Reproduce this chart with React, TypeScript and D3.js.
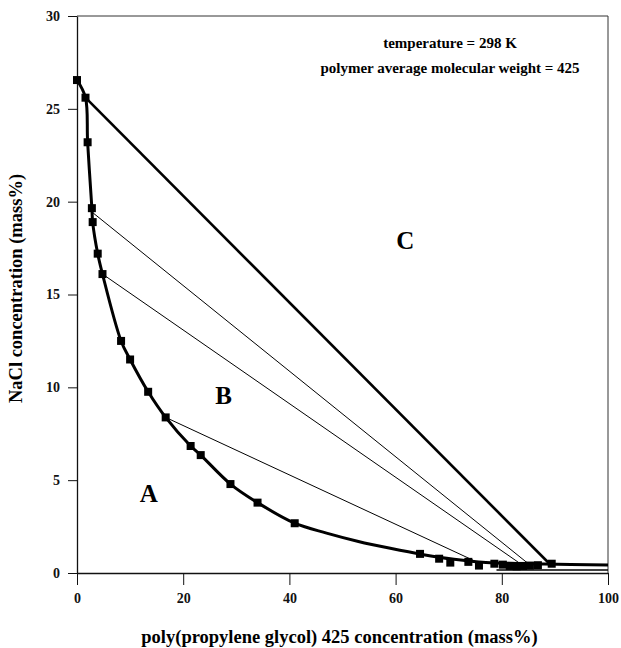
import React, { useEffect, useRef } from "react";
import * as d3 from "d3";

// binodal data points (PPG 425 mass%, NaCl mass%)
const markers: [number, number][] = [
  [0, 26.55], [1.6, 25.6], [2.0, 23.2], [2.8, 19.65], [2.95, 18.9],
  [3.9, 17.2], [4.8, 16.1], [8.3, 12.5], [10.0, 11.5], [13.4, 9.76],
  [16.7, 8.38], [21.4, 6.84], [23.3, 6.35], [28.9, 4.79], [34.0, 3.79],
  [41.0, 2.68], [64.6, 1.03], [68.2, 0.77], [70.3, 0.56], [73.7, 0.6],
  [75.7, 0.4], [78.6, 0.5], [80.2, 0.45], [81.5, 0.38], [82.8, 0.36],
  [84.0, 0.38], [85.3, 0.4], [86.8, 0.42], [89.4, 0.5],
];

// smooth binodal curve
const curvePts: [number, number][] = [
  [0, 26.55], [1.6, 25.6], [2.0, 23.2], [2.8, 19.65], [2.95, 18.9],
  [3.9, 17.2], [4.8, 16.1], [8.3, 12.5], [10.0, 11.5], [13.4, 9.76],
  [16.7, 8.38], [21.4, 6.84], [23.3, 6.35], [28.9, 4.79], [34.0, 3.79],
  [41.0, 2.68], [47, 2.15], [53, 1.7], [59, 1.33], [65, 1.0],
  [71, 0.74], [77, 0.57], [88, 0.48], [100, 0.43],
];

const lowerEdge: [number, number][] = [[79, 0.16], [100, 0.16]];

// tie lines: [start, end, thick]
const tieLines: { a: [number, number]; b: [number, number]; w: number }[] = [
  { a: [1.6, 25.6], b: [88.8, 0.55], w: 2.6 },
  { a: [3.0, 19.4], b: [85.0, 0.5], w: 1 },
  { a: [4.8, 16.1], b: [83.5, 0.5], w: 1 },
  { a: [16.7, 8.38], b: [76.0, 0.5], w: 1 },
];

const xTicks = [0, 20, 40, 60, 80, 100];
const yTicks = [0, 5, 10, 15, 20, 25, 30];

const regionLabels: { t: string; x: number; y: number }[] = [
  { t: "A", x: 13.5, y: 4.3 },
  { t: "B", x: 27.6, y: 9.55 },
  { t: "C", x: 61.8, y: 17.9 },
];

const notes = ["temperature = 298 K", "polymer average molecular weight = 425"];

const App: React.FC = () => {
  const ref = useRef<SVGSVGElement>(null);

  useEffect(() => {
    const svg = d3.select(ref.current);
    svg.selectAll("*").remove();

    const left = 77, right = 608, top = 16, bottom = 573;
    const x = d3.scaleLinear().domain([0, 100]).range([left, right]);
    const y = d3.scaleLinear().domain([0, 30]).range([bottom, top]);
    const font = "'Liberation Serif', 'DejaVu Serif', serif";

    // frame
    svg.append("line").attr("x1", left).attr("x2", right).attr("y1", top).attr("y2", top)
      .attr("stroke", "#333").attr("stroke-width", 1);
    svg.append("line").attr("x1", right).attr("x2", right).attr("y1", top).attr("y2", bottom)
      .attr("stroke", "#333").attr("stroke-width", 1);

    const xa = svg.append("g")
      .attr("transform", `translate(0,${bottom})`)
      .call(d3.axisBottom(x).tickValues(xTicks).tickSize(12).tickSizeOuter(0).tickPadding(8));
    xa.select(".domain").attr("stroke", "#111").attr("stroke-width", 1.3);
    xa.selectAll("line").attr("stroke", "#111");
    xa.selectAll("text").attr("font-family", font).attr("font-size", 14)
      .attr("font-weight", "bold").attr("fill", "#111");

    const ya = svg.append("g")
      .attr("transform", `translate(${left},0)`)
      .call(d3.axisLeft(y).tickValues(yTicks).tickSize(9).tickSizeOuter(0).tickPadding(8));
    ya.select(".domain").attr("stroke", "#111").attr("stroke-width", 1.3);
    ya.selectAll("line").attr("stroke", "#111");
    ya.selectAll("text").attr("font-family", font).attr("font-size", 14)
      .attr("font-weight", "bold").attr("fill", "#111");

    // tie lines
    svg.append("g").selectAll("line").data(tieLines).enter().append("line")
      .attr("x1", (d) => x(d.a[0])).attr("y1", (d) => y(d.a[1]))
      .attr("x2", (d) => x(d.b[0])).attr("y2", (d) => y(d.b[1]))
      .attr("stroke", "#000").attr("stroke-width", (d) => d.w);

    const line = d3.line<[number, number]>()
      .x((d) => x(d[0])).y((d) => y(d[1]))
      .curve(d3.curveCatmullRom.alpha(0.5));

    svg.append("path").datum(curvePts).attr("d", line)
      .attr("fill", "none").attr("stroke", "#000").attr("stroke-width", 3);
    svg.append("path").datum(lowerEdge).attr("d", d3.line<[number, number]>().x((d) => x(d[0])).y((d) => y(d[1])))
      .attr("fill", "none").attr("stroke", "#000").attr("stroke-width", 1.5);

    const s = 8;
    svg.append("g").selectAll("rect").data(markers).enter().append("rect")
      .attr("x", (d) => x(d[0]) - s / 2).attr("y", (d) => y(d[1]) - s / 2)
      .attr("width", s).attr("height", s).attr("fill", "#000");

    svg.append("g").selectAll("text").data(regionLabels).enter().append("text")
      .attr("x", (d) => x(d.x)).attr("y", (d) => y(d.y))
      .attr("text-anchor", "middle").attr("dominant-baseline", "central")
      .attr("font-family", font).attr("font-size", 25).attr("font-weight", "bold")
      .text((d) => d.t);

    svg.append("g").selectAll("text").data(notes).enter().append("text")
      .attr("x", 450).attr("y", (d, i) => 48 + i * 25)
      .attr("text-anchor", "middle")
      .attr("font-family", font).attr("font-size", 15).attr("font-weight", "bold")
      .text((d) => d);

    svg.append("text")
      .attr("x", (left + right) / 2 - 3).attr("y", 643)
      .attr("text-anchor", "middle")
      .attr("font-family", font).attr("font-size", 18.5).attr("font-weight", "bold")
      .text("poly(propylene glycol) 425 concentration (mass%)");

    svg.append("text")
      .attr("transform", `translate(22,${(top + bottom) / 2 - 6}) rotate(-90)`)
      .attr("text-anchor", "middle")
      .attr("font-family", font).attr("font-size", 18.5).attr("font-weight", "bold")
      .text("NaCl concentration (mass%)");
  }, []);

  return (
    <svg
      ref={ref}
      width={621}
      height={648}
      style={{ position: "absolute", left: 0, top: 0, background: "#fff" }}
    />
  );
};

export default App;
